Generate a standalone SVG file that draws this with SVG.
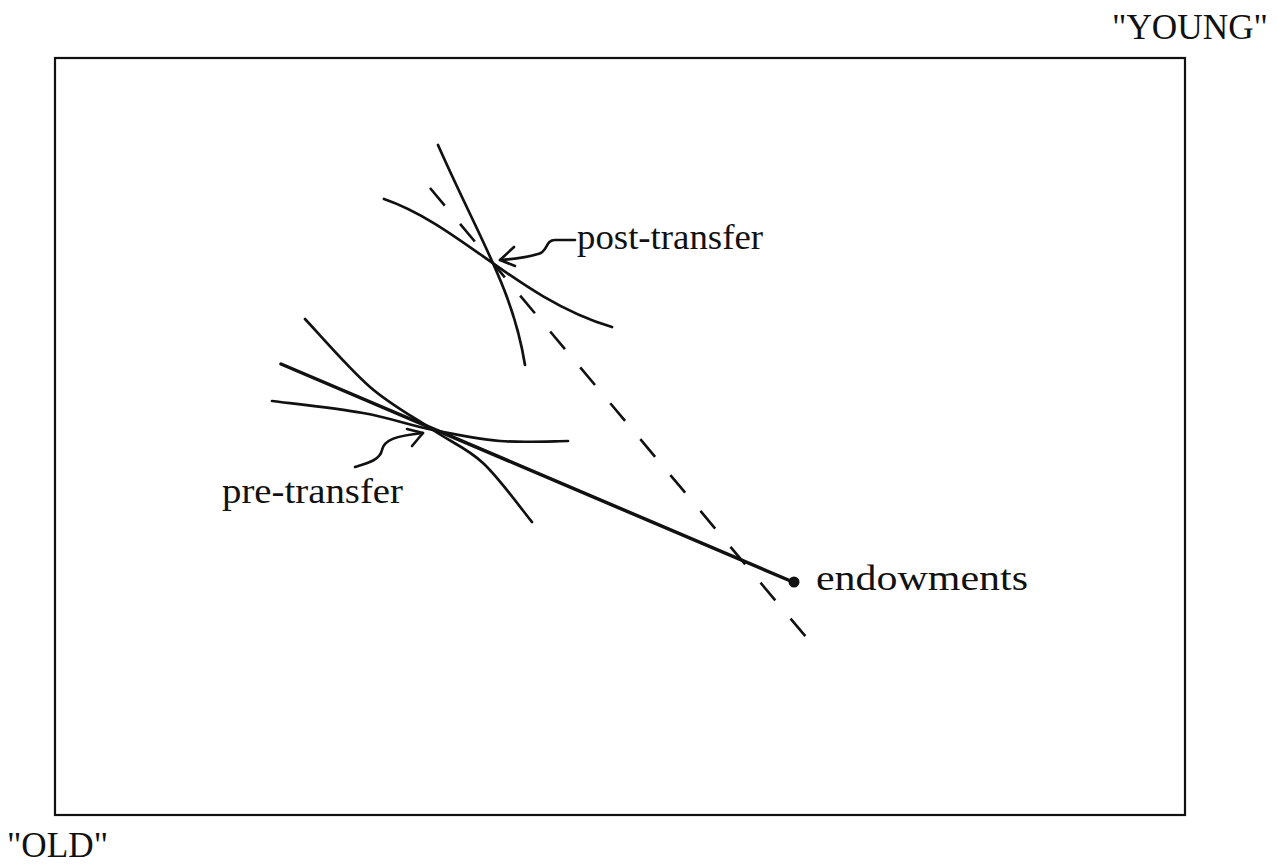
<svg xmlns="http://www.w3.org/2000/svg" width="1277" height="867" viewBox="0 0 1277 867">
<style>
.lbl{font-family:"Liberation Serif","Times New Roman",serif;font-size:36px;fill:#111}
.crv{fill:none;stroke:#111;stroke-width:2.7;stroke-linecap:round;stroke-linejoin:round}
.arr{fill:none;stroke:#111;stroke-width:2.6;stroke-linecap:round;stroke-linejoin:round}
</style>
<rect width="1277" height="867" fill="#fff"/>
<g id="frame">
<rect x="55" y="58" width="1130" height="757" fill="none" stroke="#111" stroke-width="2.2"/>
</g>
<g id="axis-young"><text class="lbl" x="1112" y="39" textLength="156" lengthAdjust="spacingAndGlyphs">"YOUNG"</text></g>
<g id="axis-old"><text class="lbl" x="7" y="857" textLength="101" lengthAdjust="spacingAndGlyphs">"OLD"</text></g>
<g id="post-transfer">
<path class="crv" d="M438,145 C480,240 513,290 525,365"/>
<path class="crv" d="M384,199 C460,225 520,300 612,327"/>
<text class="lbl" x="577" y="249" textLength="186" lengthAdjust="spacingAndGlyphs">post-transfer</text>
</g>
<g id="pre-transfer">
<path class="crv" d="M305,319 C315.8,330.3 348.7,368.5 370,387 C391.3,405.5 414.2,417.3 433,430 C451.8,442.7 466.5,447.7 483,463 C499.5,478.3 523.8,512.2 532,522"/>
<path class="crv" d="M272,401 C287.2,403 336.2,408.2 363,413 C389.8,417.8 410.2,425.3 433,430 C455.8,434.7 477.5,439.2 500,441 C522.5,442.8 556.7,441 568,441"/>
<text class="lbl" x="222" y="503" textLength="181" lengthAdjust="spacingAndGlyphs">pre-transfer</text>
</g>
<g id="endowments">
<circle cx="794" cy="582" r="5.5" fill="#111"/>
<text class="lbl" x="816" y="590" textLength="212" lengthAdjust="spacingAndGlyphs">endowments</text>
</g>
<g id="connectors">
<line x1="281" y1="364" x2="793" y2="582" stroke="#111" stroke-width="3.5" stroke-linecap="round"/>
<line x1="430" y1="188" x2="806" y2="637" stroke="#111" stroke-width="2.6" stroke-dasharray="23 23.8"/>
<path class="arr" d="M575,240 L555,240 C545,240 548,252 538,254 C528,257 515,259 500,260"/>
<path class="arr" d="M514,247 L500,260 L515,266"/>
<path class="arr" d="M355,467 C368,463 380,460 382,450 C384,440 395,436 423,433"/>
<path class="arr" d="M407,429 L423,433 L412,446"/>
</g>
</svg>
